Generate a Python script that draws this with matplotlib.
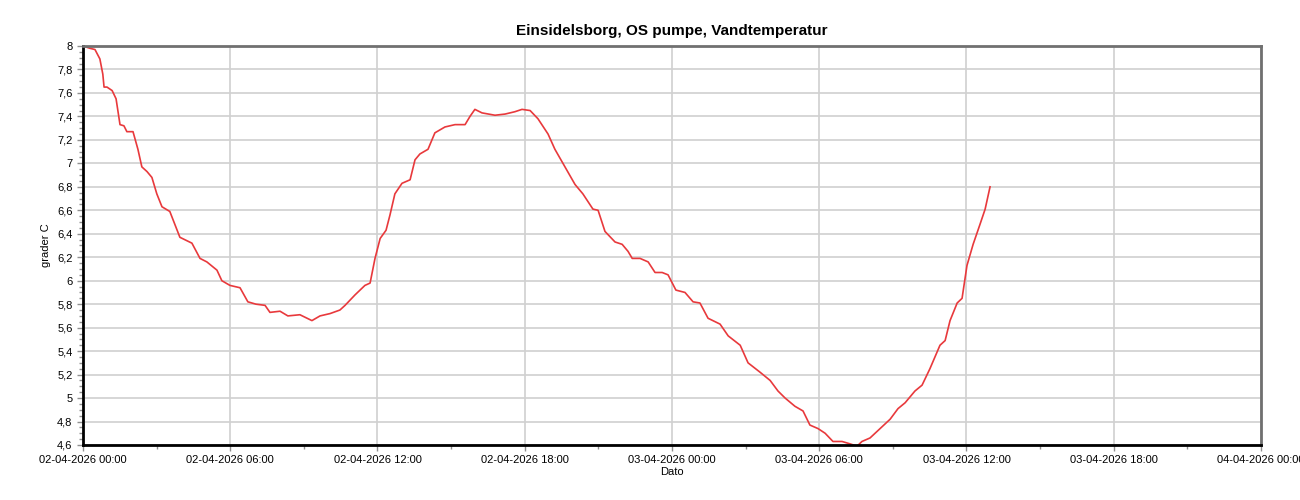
import numpy as np
import pandas as pd
import matplotlib
matplotlib.use('Agg')
import matplotlib.pyplot as plt
import matplotlib.dates as mdates
from matplotlib.ticker import FuncFormatter, MultipleLocator

plt.rcParams['font.family'] = ['Liberation Sans', 'DejaVu Sans']

# timer efter 02-04-2026 00:00 og temperatur
timer = [0.0, 0.29, 0.49, 0.69, 0.81, 0.86, 0.98, 1.19, 1.35, 1.51, 1.67, 1.79, 2.04,
         2.24, 2.40, 2.61, 2.81, 3.01, 3.22, 3.54, 3.95, 4.44, 4.77, 5.05, 5.46, 5.66,
         5.99, 6.40, 6.72, 7.05, 7.42, 7.62, 8.03, 8.35, 8.84, 9.33, 9.66, 10.07, 10.47,
         10.68, 11.09, 11.49, 11.70, 11.90, 12.11, 12.35, 12.51, 12.71, 13.00, 13.33,
         13.53, 13.73, 14.06, 14.34, 14.75, 15.16, 15.57, 15.77, 15.97, 16.26, 16.79,
         17.20, 17.60, 17.89, 18.22, 18.54, 18.95, 19.23, 19.64, 20.05, 20.37, 20.78,
         20.99, 21.27, 21.68, 21.97, 22.21, 22.38, 22.70, 23.03, 23.31, 23.60, 23.84,
         24.16, 24.53, 24.86, 25.14, 25.47, 25.96, 26.29, 26.78, 27.10, 27.59, 28.00,
         28.32, 28.61, 29.01, 29.34, 29.62, 29.95, 30.24, 30.56, 30.93, 31.25, 31.54,
         31.74, 32.07, 32.48, 32.89, 33.21, 33.50, 33.90, 34.19, 34.51, 34.92, 35.13,
         35.33, 35.62, 35.82, 36.02, 36.27, 36.55, 36.76, 36.96]
temperatur = [8.00, 7.98, 7.97, 7.89, 7.76, 7.65, 7.65, 7.62, 7.55, 7.33, 7.32, 7.27, 7.27,
              7.12, 6.97, 6.93, 6.88, 6.74, 6.63, 6.59, 6.37, 6.32, 6.19, 6.16, 6.09, 6.00,
              5.96, 5.94, 5.82, 5.80, 5.79, 5.73, 5.74, 5.70, 5.71, 5.66, 5.70, 5.72, 5.75,
              5.79, 5.88, 5.96, 5.98, 6.19, 6.36, 6.43, 6.56, 6.74, 6.83, 6.86,
              7.03, 7.08, 7.12, 7.26, 7.31, 7.33, 7.33, 7.40, 7.46, 7.43, 7.41,
              7.42, 7.44, 7.46, 7.45, 7.38, 7.25, 7.12, 6.97, 6.82, 6.74, 6.61,
              6.60, 6.42, 6.33, 6.31, 6.25, 6.19, 6.19, 6.16, 6.07, 6.07, 6.05,
              5.92, 5.90, 5.82, 5.81, 5.68, 5.63, 5.53, 5.45, 5.30, 5.22, 5.15,
              5.06, 5.00, 4.93, 4.89, 4.77, 4.74, 4.70, 4.63, 4.63, 4.61, 4.59,
              4.63, 4.66, 4.74, 4.82, 4.91, 4.96, 5.06, 5.11, 5.25, 5.45, 5.49,
              5.66, 5.81, 5.85, 6.13, 6.31, 6.48, 6.61, 6.80]

start = pd.Timestamp('2026-04-02 00:00')
tider = start + pd.to_timedelta(timer, unit='h')

fig = plt.figure(figsize=(13, 5), dpi=100)
ax = fig.add_axes([0.0638, 0.110, 0.9062, 0.798])

ax.plot(tider, temperatur, color='#e8393c', linewidth=1.2)

ax.set_xlim(start, start + pd.Timedelta(hours=48))
ax.set_ylim(4.6, 8.0)

ax.xaxis.set_major_locator(mdates.HourLocator(byhour=[0, 6, 12, 18]))
ax.xaxis.set_minor_locator(mdates.HourLocator(byhour=[3, 9, 15, 21]))
ax.xaxis.set_major_formatter(mdates.DateFormatter('%d-%m-%Y %H:%M'))
ax.yaxis.set_major_locator(MultipleLocator(0.2))
ax.yaxis.set_minor_locator(MultipleLocator(0.05))
ax.yaxis.set_major_formatter(FuncFormatter(lambda v, p: ('%g' % round(v, 2)).replace('.', ',')))

ax.grid(True, which='major', color='#d0d0d0', linewidth=1.2)
ax.set_axisbelow(True)

for s in ['left', 'bottom']:
    ax.spines[s].set_color('black')
    ax.spines[s].set_linewidth(2)
for s in ['top', 'right']:
    ax.spines[s].set_color('#707070')
    ax.spines[s].set_linewidth(2)

ax.tick_params(axis='both', which='major', labelsize=8, length=4, color='#909090', width=1)
ax.tick_params(axis='both', which='minor', length=3, color='#909090', width=1)

ax.set_title('Einsidelsborg, OS pumpe, Vandtemperatur', fontsize=11, fontweight='bold', pad=8)
ax.set_xlabel('Dato', fontsize=8, labelpad=1)
ax.set_ylabel('grader C', fontsize=8, labelpad=4)

plt.savefig('out.png')
